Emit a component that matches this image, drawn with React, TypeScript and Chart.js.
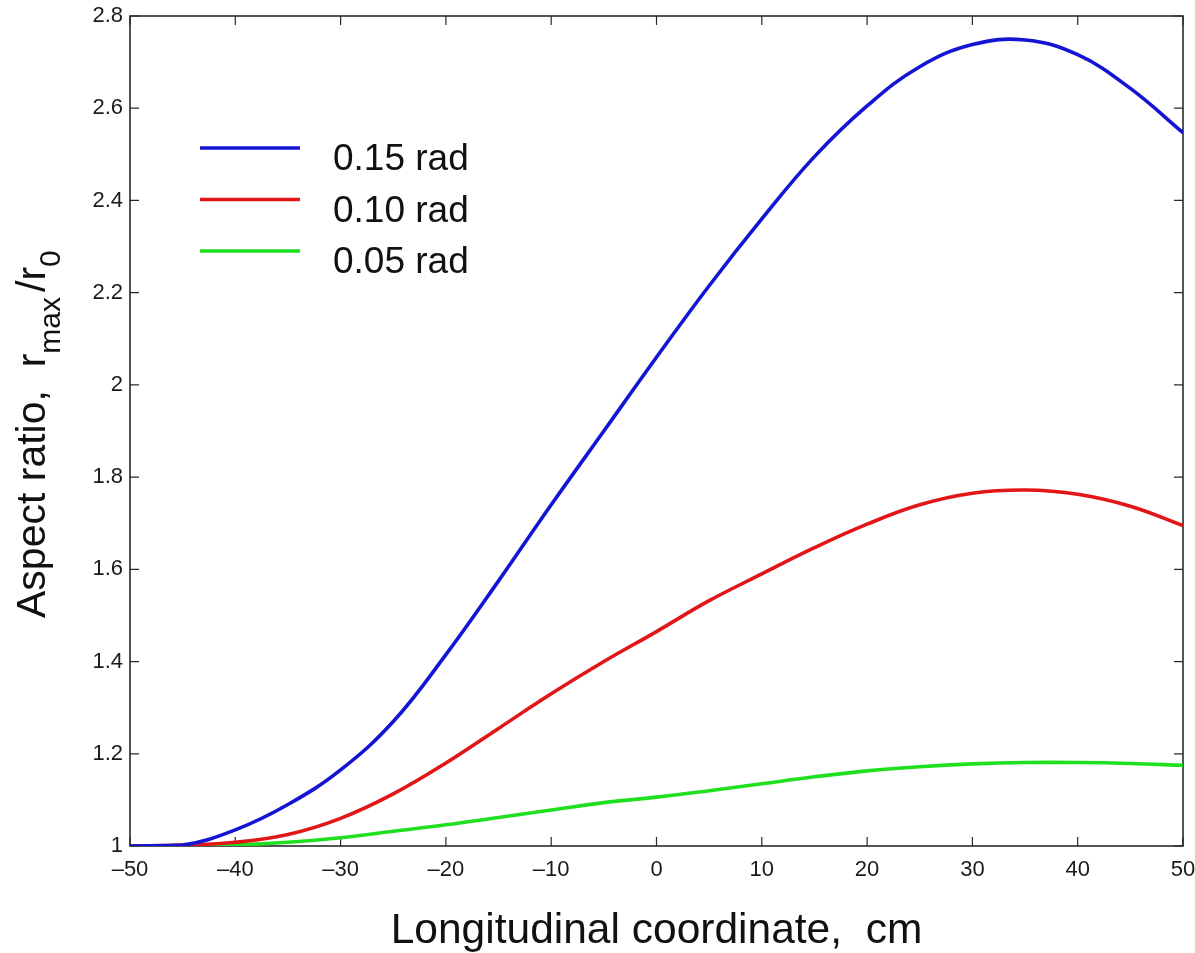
import React, { useEffect, useRef } from "react";
import { Chart, registerables } from "chart.js";

Chart.register(...registerables);

const FAMILY = "'Liberation Sans', Arial, Helvetica, sans-serif";

// ---- data ----
const xCoords = [-50, -45, -40, -35, -30, -25, -20, -15, -10, -5, 0, 5, 10, 15, 20, 25, 30, 35, 40, 45, 50];
const series015 = [1.0, 1.002, 1.035, 1.09, 1.165, 1.27, 1.415, 1.575, 1.74, 1.9, 2.06, 2.215, 2.36, 2.495, 2.605, 2.69, 2.738, 2.748, 2.716, 2.643, 2.547];
const series010 = [1.0, 1.002, 1.008, 1.025, 1.06, 1.113, 1.18, 1.255, 1.33, 1.4, 1.465, 1.532, 1.59, 1.647, 1.698, 1.74, 1.765, 1.772, 1.763, 1.737, 1.695];
const series005 = [1.0, 1.0, 1.002, 1.008, 1.018, 1.032, 1.046, 1.062, 1.078, 1.094, 1.106, 1.12, 1.135, 1.15, 1.163, 1.172, 1.178, 1.181, 1.181, 1.179, 1.175];
const seriesLabels = ["0.15 rad", "0.10 rad", "0.05 rad"];
const seriesColors = ["#1414d4", "#e21616", "#1fe01f"];
const xMin = -50;
const xMax = 50;
const xStep = 10;
const yMin = 1;
const yMax = 2.8;
const yStep = 0.2;
const xAxisTitle = "Longitudinal coordinate,  cm";
const yTitleParts = [
  { text: "Aspect ratio,  r", sub: false },
  { text: "max", sub: true },
  { text: "/r", sub: false },
  { text: "0", sub: true },
];

const framePlugin = {
  id: "matlabFrame",
  beforeDatasetsDraw(chart: any) {
    const { ctx, chartArea: a, scales } = chart;
    ctx.save();
    ctx.strokeStyle = "#2a2a2a";
    ctx.lineWidth = 1.6;
    ctx.strokeRect(a.left, a.top, a.right - a.left, a.bottom - a.top);
    ctx.lineWidth = 1.2;
    const tl = 9;
    ctx.beginPath();
    scales.x.ticks.forEach((t: any) => {
      const px = scales.x.getPixelForValue(t.value);
      ctx.moveTo(px, a.bottom);
      ctx.lineTo(px, a.bottom - tl);
      ctx.moveTo(px, a.top);
      ctx.lineTo(px, a.top + tl);
    });
    scales.y.ticks.forEach((t: any) => {
      const py = scales.y.getPixelForValue(t.value);
      ctx.moveTo(a.left, py);
      ctx.lineTo(a.left + tl, py);
      ctx.moveTo(a.right, py);
      ctx.lineTo(a.right - tl, py);
    });
    ctx.stroke();
    ctx.restore();
  },
  afterDraw(chart: any) {
    const { ctx } = chart;
    // legend
    ctx.save();
    chart.data.datasets.forEach((ds: any, i: number) => {
      const y = 148 + i * 51.5;
      ctx.strokeStyle = ds.borderColor;
      ctx.lineWidth = 3.5;
      ctx.beginPath();
      ctx.moveTo(200, y);
      ctx.lineTo(300, y);
      ctx.stroke();
      ctx.fillStyle = "#111";
      ctx.font = `37px ${FAMILY}`;
      ctx.textAlign = "left";
      ctx.textBaseline = "alphabetic";
      ctx.fillText(ds.label, 333, y + 22);
    });
    ctx.restore();

    // y-axis title with subscripts
    ctx.save();
    ctx.translate(45, 618);
    ctx.rotate(-Math.PI / 2);
    ctx.fillStyle = "#111";
    ctx.textAlign = "left";
    ctx.textBaseline = "alphabetic";
    let x = 0;
    yTitleParts.forEach((p) => {
      ctx.font = p.sub ? `30px ${FAMILY}` : `41px ${FAMILY}`;
      ctx.fillText(p.text, x, p.sub ? 15 : 0);
      x += ctx.measureText(p.text).width + (p.sub ? 5 : 0);
    });
    ctx.restore();
  },
};

export default function App() {
  const canvasRef = useRef<HTMLCanvasElement | null>(null);

  useEffect(() => {
    if (!canvasRef.current) return;
    const allSeries = [series015, series010, series005];
    const chart = new Chart(canvasRef.current, {
      type: "line",
      data: {
        datasets: allSeries.map((s, i) => ({
          label: seriesLabels[i],
          data: xCoords.map((xv, j) => ({ x: xv, y: s[j] })),
          borderColor: seriesColors[i],
          backgroundColor: seriesColors[i],
          borderWidth: 3.6,
          pointRadius: 0,
          tension: 0.4,
          fill: false,
        })),
      },
      options: {
        responsive: false,
        animation: false,
        layout: { padding: { left: 0, top: 16, right: 12, bottom: 0 } },
        plugins: {
          legend: { display: false },
          tooltip: { enabled: false },
        },
        scales: {
          x: {
            type: "linear",
            min: xMin,
            max: xMax,
            grid: { display: false, drawTicks: false },
            border: { display: false },
            ticks: {
              stepSize: xStep,
              padding: 11,
              color: "#1a1a1a",
              font: { family: FAMILY, size: 22 },
              maxRotation: 0,
              callback: (v: any) => (Number(v) < 0 ? "\u2013" + Math.abs(Number(v)) : String(v)),
            },
            title: {
              display: true,
              text: xAxisTitle,
              color: "#111",
              font: { family: FAMILY, size: 42.5 },
              padding: { top: 0, bottom: -4 },
            },
            afterFit: (scale: any) => {
              scale.height = 107;
              scale.paddingLeft = 0;
              scale.paddingRight = 0;
            },
          },
          y: {
            type: "linear",
            min: yMin,
            max: yMax,
            grid: { display: false, drawTicks: false },
            border: { display: false },
            ticks: {
              stepSize: yStep,
              padding: 7,
              color: "#1a1a1a",
              font: { family: FAMILY, size: 22 },
              callback: (v: any) => String(Number(Number(v).toFixed(1))),
            },
            afterFit: (scale: any) => {
              scale.width = 130;
              scale.paddingTop = 0;
              scale.paddingBottom = 0;
            },
          },
        },
      },
      plugins: [framePlugin],
    });
    return () => chart.destroy();
  }, []);

  return (
    <div style={{ position: "fixed", left: 0, top: 0, width: 1195, height: 953, background: "#fff" }}>
      <canvas ref={canvasRef} width={1195} height={953} style={{ display: "block" }} />
    </div>
  );
}
